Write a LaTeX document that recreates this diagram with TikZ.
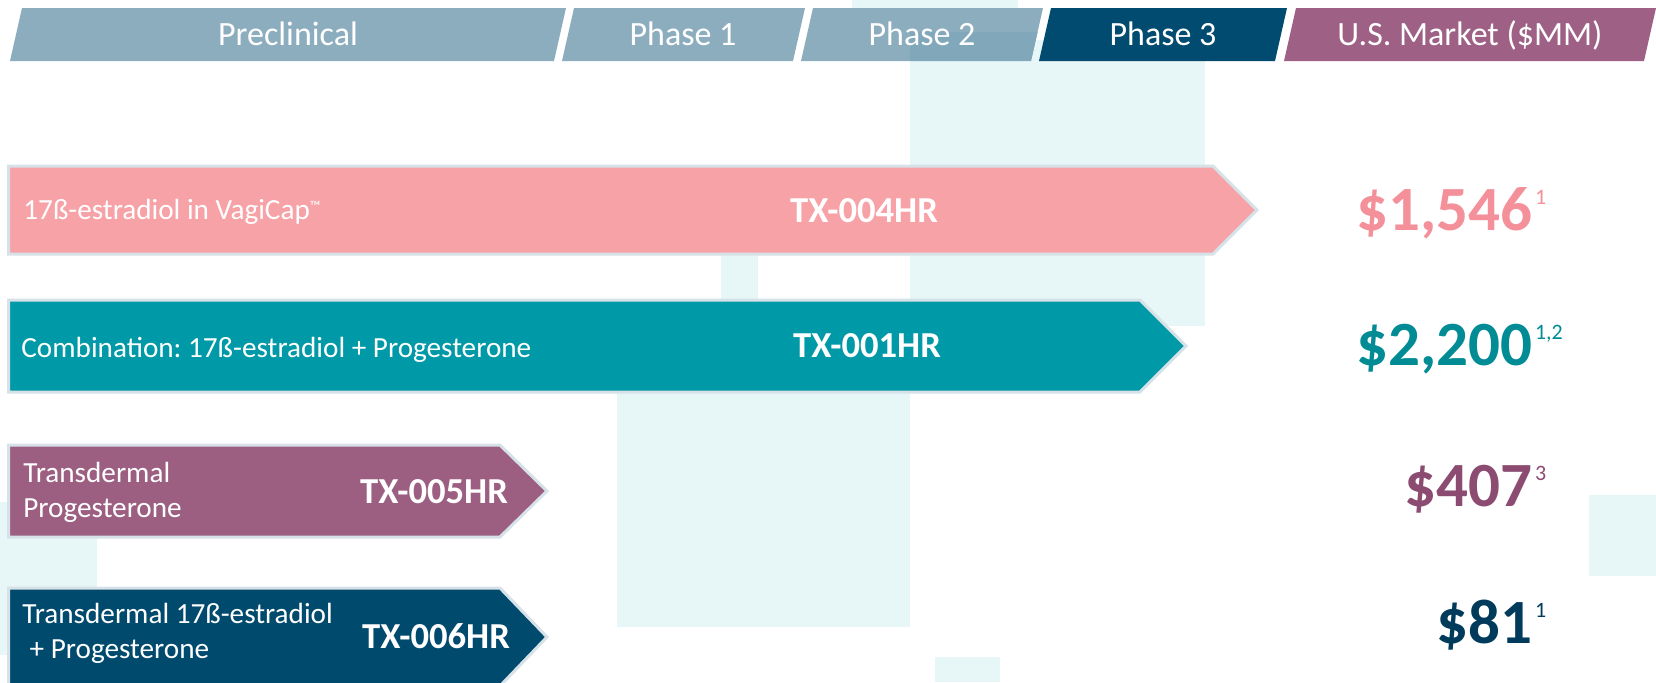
\documentclass[tikz,border=0pt]{standalone}
\usepackage{fontspec}
\setmainfont{Carlito}
\usetikzlibrary{positioning}
\frenchspacing

\definecolor{hdrgray}{HTML}{8CADBE}
\definecolor{hdrshade}{HTML}{81A8BA}
\definecolor{hdrnavy}{HTML}{004B6F}
\definecolor{hdrmauve}{HTML}{9E6185}
\definecolor{pinkbar}{HTML}{F6A2A7}
\definecolor{pinkval}{HTML}{F3909A}
\definecolor{tealbar}{HTML}{0099A7}
\definecolor{tealval}{HTML}{008B95}
\definecolor{purplebar}{HTML}{9C5F82}
\definecolor{purpleval}{HTML}{8C4C71}
\definecolor{navybar}{HTML}{004A6E}
\definecolor{navyval}{HTML}{003B5C}
\definecolor{paleblue}{HTML}{E7F6F7}
\definecolor{barrim}{HTML}{D6E2E8}

\tikzset{
  phasehead/.style={text=white, anchor=base, inner sep=0pt, font=\fontsize{17}{20}\selectfont},
  barshape/.style={draw=barrim, line width=1.5pt, line join=miter},
  barlabel/.style={text=white, anchor=base west, align=left, inner sep=0pt, font=\fontsize{14.6}{17.3}\selectfont},
  barcode/.style={text=white, anchor=base, inner sep=0pt, font=\bfseries\fontsize{18.3}{20}\selectfont},
  mktval/.style={anchor=base east, inner sep=0pt, font=\bfseries\fontsize{31.5}{34}\selectfont},
  mktnote/.style={anchor=base west, inner sep=0pt, xshift=0.8pt, yshift=13pt, font=\fontsize{11}{12}\selectfont},
}

\begin{document}
\begin{tikzpicture}[x=0.5pt,y=-0.5pt]
\useasboundingbox (0,0) rectangle (1656,682);
\clip (0,0) rectangle (1656,682);

% pale blocks in the background
\fill [paleblue] (852,0) rectangle (1018,30);
\fill [paleblue] (910,40) rectangle (1205,326);
\fill [paleblue] (721,250) rectangle (758,300);
\fill [paleblue] (617,393) rectangle (910,627);
\fill [paleblue] (935,657) rectangle (1000,682);
\fill [paleblue] (1589,495) rectangle (1656,576);
\fill [paleblue] (0,502) rectangle (97,655);

% phase header
\fill [hdrgray] (10,61) -- (22,8) -- (566,8) -- (554,61) -- cycle;
\fill [hdrgray] (562,61) -- (574,8) -- (805,8) -- (793,61) -- cycle;
\fill [hdrgray] (801,61) -- (813,8) -- (1043,8) -- (1031,61) -- cycle;
\begin{scope}
\clip (801,61) -- (813,8) -- (1043,8) -- (1031,61) -- cycle;
\fill [hdrshade] (910,32) rectangle (1050,61);
\end{scope}
\fill [hdrnavy] (1039,61) -- (1051,8) -- (1287,8) -- (1275,61) -- cycle;
\fill [hdrmauve] (1284,61) -- (1296,8) -- (1656,8) -- (1644,61) -- cycle;

\node [phasehead] (preclin) at (288,45) {Preclinical};
\node [phasehead] (phaseone) at (683,45) {Phase 1};
\node [phasehead] (phasetwo) at (922,45) {Phase 2};
\node [phasehead] (phasethree) at (1163,45) {Phase 3};
\node [phasehead] (market) at (1470,45) {U.S. Market (\$MM)};

% programme bars
\draw [barshape, fill=pinkbar] (8.5,166) -- (1213,166) -- (1257,210) -- (1213,254) -- (8.5,254) -- cycle;
\draw [barshape, fill=tealbar] (8.5,300) -- (1140,300) -- (1186,346) -- (1140,392) -- (8.5,392) -- cycle;
\draw [barshape, fill=purplebar] (8.5,445) -- (500,445) -- (547,491) -- (500,537) -- (8.5,537) -- cycle;
\draw [barshape, fill=navybar] (8.5,588) -- (500,588) -- (547,637) -- (500,686) -- (8.5,686) -- cycle;

\node [barlabel] (lblfour) at (23,219) {17ß-estradiol in VagiCap\raisebox{4pt}{\fontsize{7.5}{8}\selectfont ™}};
\node [barlabel] (lblone) at (21,357) {Combination: 17ß-estradiol + Progesterone};
\node [barlabel] (lblfive) at (23,517) {Transdermal\\Progesterone};
\node [barlabel] (lblsix) at (22,658) {Transdermal 17ß-estradiol\\\hspace{0.25em}+ Progesterone};

\node [barcode] (txfour) at (864,222) {TX-004HR};
\node [barcode] (txone) at (867,357) {TX-001HR};
\node [barcode] (txfive) at (434,503) {TX-005HR};
\node [barcode] (txsix) at (436,648) {TX-006HR};

% market size
\node [mktval, text=pinkval] (valfour) at (1533,230) {\$1,546};
\node [mktnote, text=pinkval] (notefour) at (valfour.base east) {1};
\node [mktval, text=tealval] (valone) at (1533,365) {\$2,200};
\node [mktnote, text=tealval] (noteone) at (valone.base east) {1,2};
\node [mktval, text=purpleval] (valfive) at (1533,506) {\$407};
\node [mktnote, text=purpleval] (notefive) at (valfive.base east) {3};
\node [mktval, text=navyval] (valsix) at (1533,643) {\$81};
\node [mktnote, text=navyval] (notesix) at (valsix.base east) {1};
\end{tikzpicture}
\end{document}
